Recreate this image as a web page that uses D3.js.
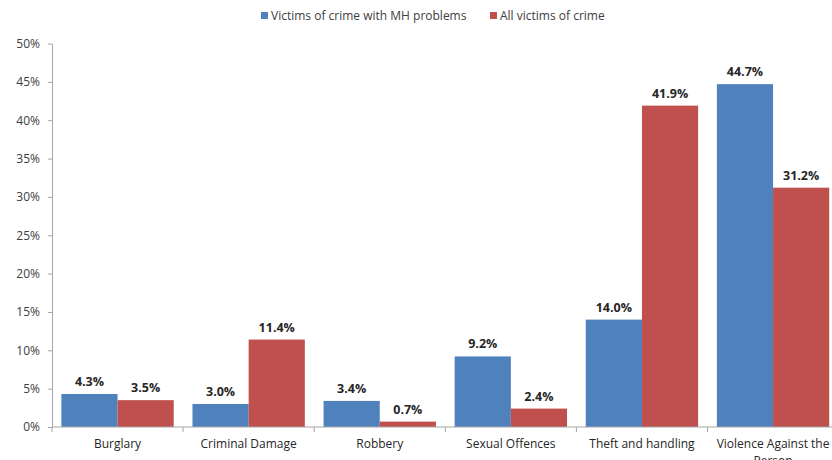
<!DOCTYPE html>
<html><head><meta charset="utf-8">
<script src="https://cdn.jsdelivr.net/npm/d3@7"></script>
<style>body{margin:0;background:#fff;overflow:hidden}svg{display:block}</style>
</head><body>
<svg id="c" width="832" height="460"></svg>
<script>
const categories = ["Burglary","Criminal Damage","Robbery","Sexual Offences","Theft and handling","Violence Against the Person"];
const seriesNames = ["Victims of crime with MH problems","All victims of crime"];
const mhValues = [4.3, 3.0, 3.4, 9.2, 14.0, 44.7];
const allValues = [3.5, 11.4, 0.7, 2.4, 41.9, 31.2];
const yTicks = [0,5,10,15,20,25,30,35,40,45,50];
const colors = ["#4F81BD","#C0504D"];

const svg = d3.select("#c");
const font = "'Open Sans', 'Noto Sans', sans-serif";
const x0 = d3.scaleBand().domain(categories).range([52, 838.6]).paddingInner(0.143).paddingOuter(0.0715);
const x1 = d3.scaleBand().domain(seriesNames).range([0, x0.bandwidth()]);
const y = d3.scaleLinear().domain([0,50]).range([427, 43.5]);

const data = categories.map((c,i)=>({cat:c, vals:[{s:seriesNames[0],v:mhValues[i]},{s:seriesNames[1],v:allValues[i]}]}));

// y axis
const yAxis = svg.append("g").attr("transform","translate(52,0)")
  .call(d3.axisLeft(y).tickValues(yTicks).tickFormat(d=>d+"%").tickSize(4).tickSizeOuter(0));
yAxis.select(".domain").attr("stroke","#a6a6a6");
yAxis.selectAll(".tick line").attr("stroke","#a6a6a6");
yAxis.selectAll(".tick text").attr("font-family",font).attr("font-size",12).attr("fill","#404040").attr("x",-12);

// bars
const g = svg.append("g").selectAll("g").data(data).join("g").attr("transform",d=>`translate(${x0(d.cat)},0)`);
g.selectAll("rect").data(d=>d.vals).join("rect")
  .attr("x",d=>x1(d.s)).attr("width",x1.bandwidth())
  .attr("y",d=>y(d.v)).attr("height",d=>y(0)-y(d.v))
  .attr("fill",(d,i)=>colors[i]);
g.selectAll("text").data(d=>d.vals).join("text")
  .attr("x",d=>x1(d.s)+x1.bandwidth()/2).attr("y",d=>y(d.v)-8)
  .attr("text-anchor","middle").attr("font-family",font).attr("font-size",12.5).attr("font-weight","bold").attr("fill","#262626")
  .text(d=>d.v.toFixed(1)+"%");

// x axis
const xg = svg.append("g").attr("transform","translate(0,427)");
xg.append("line").attr("x1",52).attr("x2",832).attr("stroke","#a6a6a6");
const step = x0.step();
xg.selectAll("line.t").data(categories).join("line").attr("class","t")
  .attr("x1",d=>x0(d)-x0.paddingOuter()*step).attr("x2",d=>x0(d)-x0.paddingOuter()*step)
  .attr("y1",0).attr("y2",5).attr("stroke","#a6a6a6");
const lt = xg.selectAll("text").data(categories).join("text")
  .attr("x",d=>x0(d)+x0.bandwidth()/2).attr("y",21)
  .attr("text-anchor","middle").attr("font-family",font).attr("font-size",12).attr("fill","#262626");
lt.each(function(d){
  const t=d3.select(this);
  if(d==="Violence Against the Person"){
    t.append("tspan").attr("x",x0(d)+x0.bandwidth()/2).text("Violence Against the");
    t.append("tspan").attr("x",x0(d)+x0.bandwidth()/2).attr("dy",16.5).text("Person");
  } else t.text(d);
});

// legend
const legX = [261, 490];
const lg = svg.append("g").selectAll("g").data(seriesNames).join("g").attr("transform",(d,i)=>`translate(${legX[i]},0)`);
lg.append("rect").attr("x",0).attr("y",12).attr("width",7).attr("height",7).attr("fill",(d,i)=>colors[i]);
lg.append("text").attr("x",10).attr("y",20).attr("font-family",font).attr("font-size",12).attr("fill","#404040").text(d=>d);
</script>
</body></html>
